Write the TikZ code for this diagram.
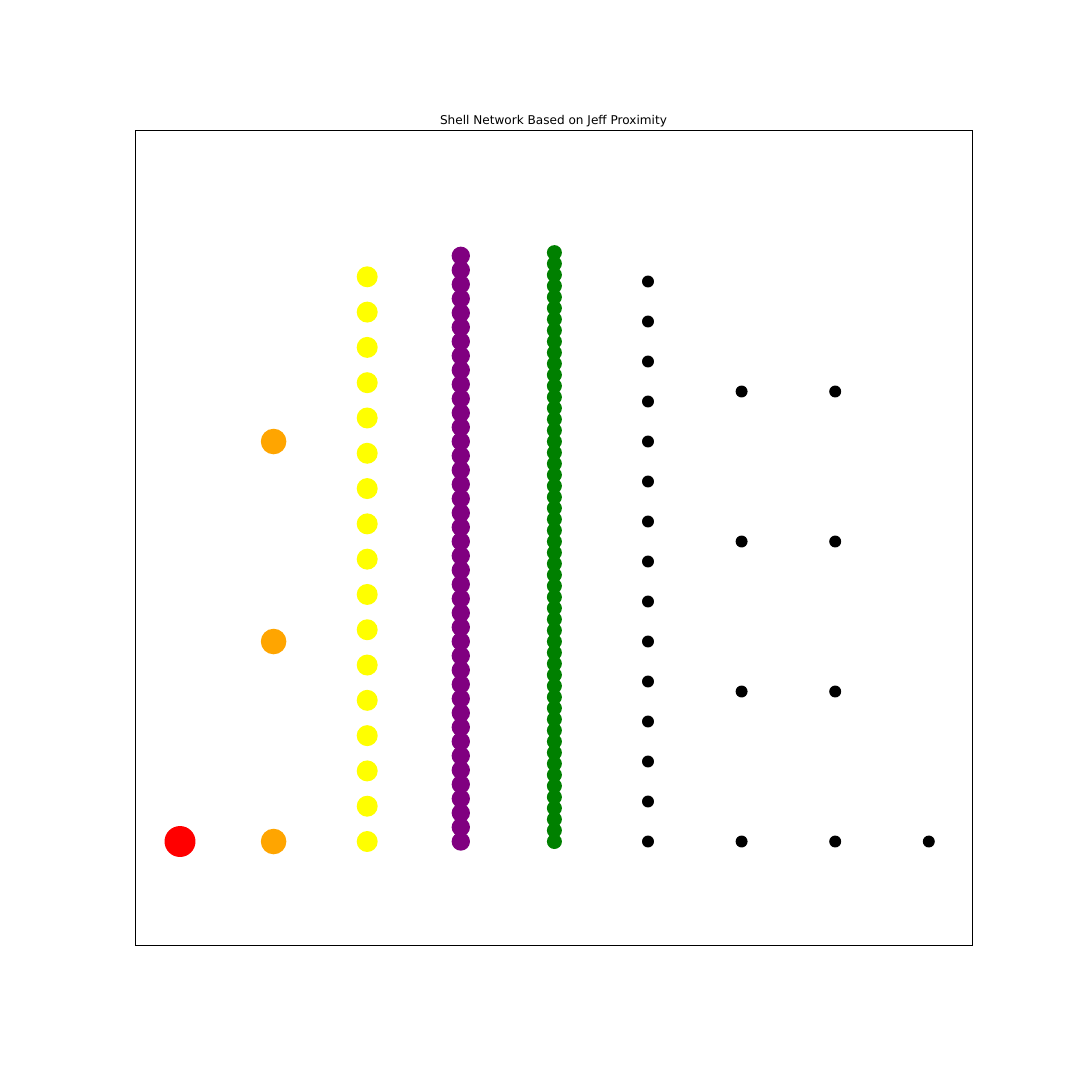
\documentclass[tikz,border=0pt]{standalone}
\usepackage{fontspec}
\setmainfont{DejaVu Sans}
\usepackage{tikz}
\definecolor{shellorange}{RGB}{255,165,0}
\definecolor{shellyellow}{RGB}{255,255,0}
\definecolor{shellpurple}{RGB}{128,0,128}
\definecolor{shellgreen}{RGB}{0,128,0}
\tikzset{
    shellnode/.style={circle, draw=none, inner sep=0pt, outer sep=0pt},
    frame/.style={draw, line width=0.6pt}
}

\begin{document}
\begin{tikzpicture}[
    x=0.72pt, y=-0.72pt,
    jeff/.style={shellnode, fill=red, minimum size=22.3pt},
    shellone/.style={shellnode, fill=shellorange, minimum size=18.4pt},
    shelltwo/.style={shellnode, fill=shellyellow, minimum size=15.1pt},
    shellthree/.style={shellnode, fill=shellpurple, minimum size=13.2pt},
    shellfour/.style={shellnode, fill=shellgreen, minimum size=10.8pt},
    shellfar/.style={shellnode, fill=black, minimum size=8.6pt}
]
    \useasboundingbox (0,0) rectangle (1080,1080);

    % Axes box and title
    \draw[frame] (135,130) rectangle (972,945);
    \node[anchor=base, font=\fontsize{8.7}{10}\selectfont] (title) at (553.5,124) {Shell Network Based on Jeff Proximity};

    % Jeff
    \node[jeff] (jeffnode) at (180,841.5) {};

    % Shells, spaced 600/n apart from the bottom row
    \foreach \k in {0,...,2}
        \node[shellone] (orange\k) at (273.6,841.5-\k*200) {};
    \foreach \k in {0,...,16}
        \node[shelltwo] (yellow\k) at (367.2,{841.5-\k*(600/17)}) {};
    \foreach \k in {0,...,41}
        \node[shellthree] (purple\k) at (460.8,{841.5-\k*(600/42)}) {};
    \foreach \k in {0,...,53}
        \node[shellfour] (green\k) at (554.4,{841.5-\k*(600/54)}) {};

    % Outer shells
    \foreach \k in {0,...,14}
        \node[shellfar] (blackA\k) at (648,841.5-\k*40) {};
    \foreach \k in {0,...,3}
        \node[shellfar] (blackB\k) at (741.6,841.5-\k*150) {};
    \foreach \k in {0,...,3}
        \node[shellfar] (blackC\k) at (835.2,841.5-\k*150) {};
    \node[shellfar] (blackD0) at (928.8,841.5) {};

\end{tikzpicture}
\end{document}
